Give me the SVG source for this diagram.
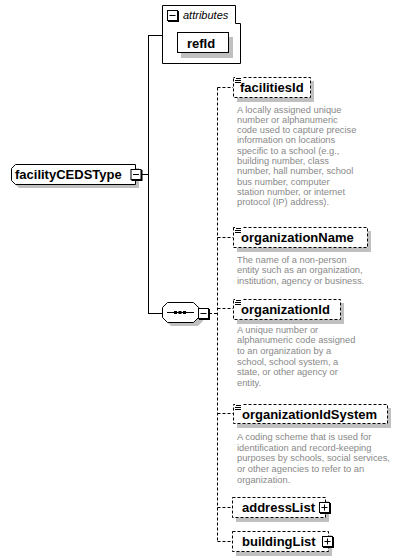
<svg xmlns="http://www.w3.org/2000/svg" width="400" height="560" viewBox="0 0 400 560">
<style>
.bg{fill:#fff}
.sh{fill:#c0c0c0}
.box{fill:#fff;stroke:#000;stroke-width:1}
.dbox{fill:#fff;stroke:#000;stroke-width:1;stroke-dasharray:3,2}
.name{font-family:"Liberation Sans",Arial,sans-serif;font-weight:bold;font-size:13px;fill:#000}
.attr{font-family:"Liberation Sans",Arial,sans-serif;font-style:italic;font-size:11px;fill:#000}
.desc{font-family:"Liberation Sans",Arial,sans-serif;font-size:9.3px;fill:#888}
.ln{stroke:#000;stroke-width:1;fill:none}
.dl{stroke:#000;stroke-width:1;fill:none;stroke-dasharray:3,2}
.ic{fill:#fff;stroke:#000;stroke-width:1}
</style>
<defs>
<g id="minus"><rect x="1" y="1" width="11" height="11" fill="#000"/><rect class="ic" x="0.5" y="0.5" width="10" height="10"/><line class="ln" x1="2.5" y1="5.5" x2="8.5" y2="5.5"/></g>
<g id="plus"><rect x="1" y="1" width="11" height="11" fill="#000"/><rect class="ic" x="0.5" y="0.5" width="10" height="10"/><line class="ln" x1="2.5" y1="5.5" x2="8.5" y2="5.5"/><line class="ln" x1="5.5" y1="2.5" x2="5.5" y2="8.5"/></g>
<g id="doc"><rect x="0" y="-1" width="8" height="7" fill="#fff"/><line class="ln" x1="1" y1="0.5" x2="6" y2="0.5"/><line class="ln" x1="0" y1="2.5" x2="6" y2="2.5"/><line class="ln" x1="0" y1="4.5" x2="6" y2="4.5"/></g>
</defs>
<rect width="400" height="560" fill="#fff"/>

<g id="connectors">
<line class="ln" x1="141" y1="174.5" x2="148.5" y2="174.5"/>
<line class="ln" x1="148.5" y1="35.5" x2="148.5" y2="313.5"/>
<line class="ln" x1="148" y1="35.5" x2="162" y2="35.5"/>
<line class="ln" x1="148" y1="313.5" x2="162" y2="313.5"/>
<line class="dl" x1="209" y1="313.5" x2="217.5" y2="313.5"/>
<line class="dl" x1="217.5" y1="87.5" x2="217.5" y2="541.5"/>
<line class="dl" x1="217.5" y1="87.5" x2="233" y2="87.5"/>
<line class="dl" x1="217.5" y1="237.5" x2="233" y2="237.5"/>
<line class="dl" x1="217.5" y1="308.5" x2="233" y2="308.5"/>
<line class="dl" x1="217.5" y1="413.5" x2="233" y2="413.5"/>
<line class="dl" x1="217.5" y1="507.5" x2="232" y2="507.5"/>
<line class="dl" x1="217.5" y1="541.5" x2="232" y2="541.5"/>
</g>

<g id="facilityCEDSType">
<path class="sh" d="M19,168 H139 V188 H19 L15,184 V172 Z"/>
<path class="box" d="M15.5,164.5 H135.5 V184.5 H15.5 L11.5,180.5 V168.5 Z"/>
<text class="name" x="15" y="179">facilityCEDSType</text>
<use href="#minus" x="130.5" y="169"/>
</g>

<g id="attributes">
<path class="box" d="M162.5,5.5 H235.5 V23.5 H240.5 V63.5 H162.5 Z"/>
<use href="#minus" x="167" y="10"/>
<text class="attr" x="183" y="19">attributes</text>
</g>

<g id="refId">
<rect class="sh" x="181" y="37" width="52" height="21"/>
<rect class="box" x="177.5" y="32.5" width="51" height="20"/>
<text class="name" x="187" y="48">refId</text>
</g>

<g id="sequence">
<path class="sh" d="M171,306 H198 L203,311 V321 L198,326 H171 L166,321 V311 Z"/>
<path class="box" d="M167.5,302.5 H193.5 L198.5,307.5 V317.5 L193.5,322.5 H167.5 L162.5,317.5 V307.5 Z"/>
<line class="ln" x1="167" y1="312.5" x2="194" y2="312.5"/>
<rect x="174" y="311" width="3" height="3" fill="#000"/>
<rect x="178.5" y="311" width="3" height="3" fill="#000"/>
<rect x="183" y="311" width="3" height="3" fill="#000"/>
<use href="#minus" x="198" y="308"/>
</g>

<g id="facilitiesId">
<rect class="sh" x="237" y="81" width="77" height="21"/>
<rect class="dbox" x="233.5" y="77.5" width="77" height="20"/>
<use href="#doc" x="235" y="78"/>
<text class="name" x="240" y="92">facilitiesId</text>
<text class="desc" x="237" y="112.5">A locally assigned unique</text>
<text class="desc" x="237" y="122.8">number or alphanumeric</text>
<text class="desc" x="237" y="133.1">code used to capture precise</text>
<text class="desc" x="237" y="143.4">information on locations</text>
<text class="desc" x="237" y="153.7">specific to a school (e.g.,</text>
<text class="desc" x="237" y="164">building number, class</text>
<text class="desc" x="237" y="174.3">number, hall number, school</text>
<text class="desc" x="237" y="184.6">bus number, computer</text>
<text class="desc" x="237" y="194.9">station number, or internet</text>
<text class="desc" x="237" y="205.2">protocol (IP) address).</text>
</g>

<g id="organizationName">
<rect class="sh" x="237" y="231" width="134" height="21"/>
<rect class="dbox" x="233.5" y="227.5" width="134" height="20"/>
<use href="#doc" x="235" y="228"/>
<text class="name" x="241" y="242">organizationName</text>
<text class="desc" x="237" y="262.5">The name of a non-person</text>
<text class="desc" x="237" y="273">entity such as an organization,</text>
<text class="desc" x="237" y="283.5">institution, agency or business.</text>
</g>

<g id="organizationId">
<rect class="sh" x="237" y="303" width="107" height="21"/>
<rect class="dbox" x="233.5" y="299.5" width="107" height="20"/>
<use href="#doc" x="235" y="300"/>
<text class="name" x="241" y="314">organizationId</text>
<text class="desc" x="237" y="332.5">A unique number or</text>
<text class="desc" x="237" y="343.2">alphanumeric code assigned</text>
<text class="desc" x="237" y="353.9">to an organization by a</text>
<text class="desc" x="237" y="364.6">school, school system, a</text>
<text class="desc" x="237" y="375.3">state, or other agency or</text>
<text class="desc" x="237" y="386">entity.</text>
</g>

<g id="organizationIdSystem">
<rect class="sh" x="237" y="408" width="154" height="20"/>
<rect class="dbox" x="233.5" y="404.5" width="154" height="19"/>
<use href="#doc" x="235" y="405"/>
<text class="name" x="242" y="419">organizationIdSystem</text>
<text class="desc" x="237" y="440">A coding scheme that is used for</text>
<text class="desc" x="237" y="450.7">identification and record-keeping</text>
<text class="desc" x="237" y="461.4">purposes by schools, social services,</text>
<text class="desc" x="237" y="472.1">or other agencies to refer to an</text>
<text class="desc" x="237" y="482.8">organization.</text>
</g>

<g id="addressList">
<rect class="sh" x="236" y="501" width="93" height="21"/>
<rect class="dbox" x="232.5" y="497.5" width="93" height="20"/>
<text class="name" x="242" y="512">addressList</text>
<use href="#plus" x="319" y="502"/>
</g>

<g id="buildingList">
<rect class="sh" x="236" y="535" width="96" height="21"/>
<rect class="dbox" x="232.5" y="531.5" width="96" height="20"/>
<text class="name" x="242" y="546">buildingList</text>
<use href="#plus" x="322" y="536"/>
</g>
</svg>
